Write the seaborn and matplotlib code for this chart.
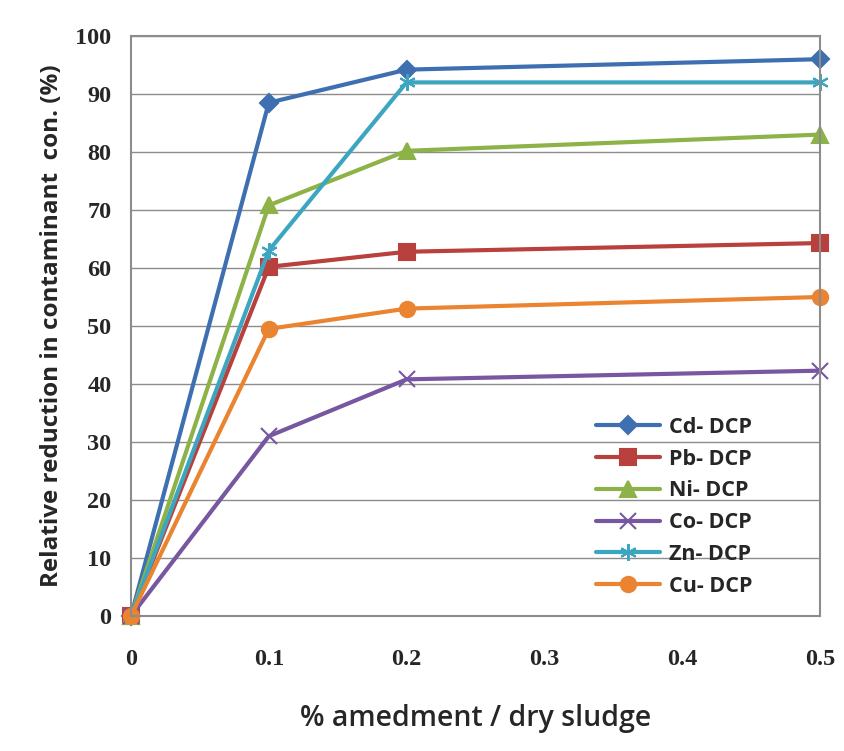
import pandas as pd
import numpy as np
import matplotlib
matplotlib.use("Agg")
import matplotlib.pyplot as plt
import seaborn as sns

# data
amendment = [0, 0.1, 0.2, 0.5]
series_names = ["Cd- DCP", "Pb- DCP", "Ni- DCP", "Co- DCP", "Zn- DCP", "Cu- DCP"]
cd = [0, 88.5, 94.2, 96.0]
pb = [0, 60.2, 62.8, 64.3]
ni = [0, 70.8, 80.2, 83.0]
co = [0, 31.0, 40.8, 42.3]
zn = [0, 63.0, 92.0, 92.0]
cu = [0, 49.5, 53.0, 55.0]

colors = ["#3E6FB0", "#B8403D", "#8DB248", "#7757A0", "#3CA6C0", "#EB8430"]
markers = ["D", "s", "^", "x", (6, 2, 0), "o"]
msizes = [9, 11, 11, 12, 12, 11]

sns.set_theme(style="white")
fig = plt.figure(figsize=(8.45, 7.51), dpi=100)
ax = fig.add_axes([131 / 845, 1 - 616 / 751, (820 - 131) / 845, (616 - 36) / 751])

for name, vals, c, m, ms in zip(series_names, [cd, pb, ni, co, zn, cu], colors, markers, msizes):
    d = pd.DataFrame({"amend": amendment, "reduction": vals})
    sns.lineplot(data=d, x="amend", y="reduction", color=c, marker=m,
                 markersize=ms, markeredgecolor=c, markeredgewidth=1.5,
                 linewidth=3, label=name, ax=ax, clip_on=False)

ax.set_xlim(0, 0.5)
ax.set_ylim(0, 100)
ax.set_yticks(np.arange(0, 101, 10))
ax.set_xticks([0, 0.1, 0.2, 0.3, 0.4, 0.5])
ax.set_xticklabels(["0", "0.1", "0.2", "0.3", "0.4", "0.5"])
ax.yaxis.grid(True, color="#8c8c8c", linewidth=1)
ax.set_axisbelow(True)
for s in ax.spines.values():
    s.set_color("#8c8c8c")
    s.set_linewidth(1.5)

ax.tick_params(axis="x", direction="in", length=6, color="#8c8c8c", pad=24)
ax.tick_params(axis="y", length=0, pad=14)
for lab in ax.get_xticklabels() + ax.get_yticklabels():
    lab.set_family("Liberation Serif")
    lab.set_fontweight("bold")
    lab.set_fontsize(17.5)

ax.set_xlabel("% amedment / dry sludge", fontsize=20.5, family="Open Sans",
              fontweight="semibold", labelpad=24)
ax.set_ylabel("Relative reduction in contaminant  con. (%)", fontsize=17.5,
              family="Open Sans", fontweight="bold", labelpad=8)

leg = ax.legend(loc="lower right", bbox_to_anchor=(0.93, 0.0), frameon=False,
                prop={"family": "Open Sans", "weight": "bold", "size": 15.5},
                handlelength=3.0, labelspacing=0.5, handletextpad=0.4)

fig.savefig("out.png", dpi=100)
